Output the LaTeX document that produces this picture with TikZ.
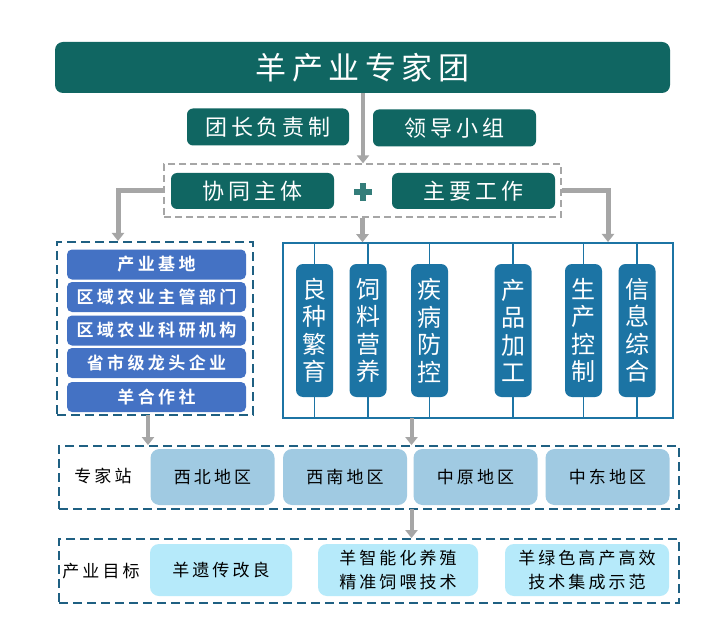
\documentclass[tikz,border=0pt]{standalone}
\usepackage{fontspec}
\usetikzlibrary{arrows.meta}
\newfontfamily\cjk{Noto Sans CJK SC}
\newfontfamily\cjkls[LetterSpace=18]{Noto Sans CJK SC}
\newfontfamily\cjkbd[LetterSpace=20]{Noto Sans CJK SC Bold}
\definecolor{teal1}{RGB}{16,102,98}
\definecolor{blue1}{RGB}{68,114,196}
\definecolor{pill}{RGB}{28,116,164}
\definecolor{dblue}{RGB}{31,96,130}
\definecolor{region}{RGB}{160,202,226}
\definecolor{goal}{RGB}{182,234,250}
\definecolor{arr}{RGB}{166,166,166}
\begin{document}
\begin{tikzpicture}[x=1pt,y=-1pt,
  tealbox/.style={fill=teal1,rounded corners=6pt,text=white,inner sep=0pt},
  bluebox/.style={fill=blue1,rounded corners=5pt,text=white,inner sep=0pt,minimum width=179pt,minimum height=30pt,font=\cjkbd\fontsize{17}{20}\selectfont},
  pillbox/.style={fill=pill,rounded corners=7pt,text=white,inner sep=0pt,minimum width=37pt,minimum height=133pt,align=center,font=\cjk\fontsize{24}{27.5}\selectfont},
  regbox/.style={fill=region,rounded corners=9pt,inner sep=0pt,minimum width=124pt,minimum height=56pt,font=\cjkls\fontsize{17}{20}\selectfont},
  goalbox/.style={fill=goal,rounded corners=9pt,inner sep=0pt,minimum height=52pt,align=center,font=\cjkls\fontsize{17}{24}\selectfont},
  bdash/.style={draw=dblue,line width=1.8pt,dash pattern=on 9pt off 5pt,inner sep=0pt},
  garrow/.style={draw=arr,line width=5pt,-{Triangle[width=12pt,length=8pt]}},
  frame/.style={draw=pill,line width=1.5pt},
  lbl/.style={font=\cjkls\fontsize{17}{20}\selectfont,inner sep=0pt}
]
\useasboundingbox (0,0) rectangle (714,636);
\fill[white] (0,0) rectangle (714,636);
% title
\node[tealbox,rounded corners=8pt,minimum width=615pt,minimum height=51pt,font=\cjkls\fontsize{31}{34}\selectfont] (title) at (362.5,67.5) {羊产业专家团};
\node[tealbox,minimum width=162pt,minimum height=37pt,font=\cjkls\fontsize{22}{24}\selectfont] (tz) at (268,127) {团长负责制};
\node[tealbox,minimum width=163pt,minimum height=37pt,font=\cjkls\fontsize{22}{24}\selectfont] (ld) at (454.5,128) {领导小组};
% dashed group
\node[draw=arr,line width=1.3pt,dash pattern=on 7pt off 4pt,minimum width=397pt,minimum height=53pt,inner sep=0pt] (grp) at (362.5,190.5) {};
\node[tealbox,minimum width=163pt,minimum height=36pt,font=\cjkls\fontsize{22}{24}\selectfont] (xt) at (252.5,191) {协同主体};
\node[tealbox,minimum width=163pt,minimum height=36pt,font=\cjkls\fontsize{22}{24}\selectfont] (zy) at (473.5,191) {主要工作};
\node[minimum size=20pt,inner sep=0pt] (plus) at (363,192) {};
\fill[teal1!85!white] (plus.center) ++(-9,-3) rectangle ++(18,6);
\fill[teal1!85!white] (plus.center) ++(-3,-9) rectangle ++(6,18);
% left group
\node[bdash,minimum width=196pt,minimum height=173pt] (lg) at (155,328.5) {};
\node[bluebox] (b1) at (156.5,264.5) {产业基地};
\node[bluebox] (b2) at (156.5,297) {区域农业主管部门};
\node[bluebox] (b3) at (156.5,330.5) {区域农业科研机构};
\node[bluebox] (b4) at (156.5,363) {省市级龙头企业};
\node[bluebox] (b5) at (156.5,397) {羊合作社};
% right frame
\node[frame,minimum width=390pt,minimum height=175pt,inner sep=0pt] (rf) at (478,330.5) {};
\node[pillbox] (p1) at (314.5,330.5) {良\\种\\繁\\育};
\node[pillbox] (p2) at (368,330.5) {饲\\料\\营\\养};
\node[pillbox] (p3) at (429.5,330.5) {疾\\病\\防\\控};
\node[pillbox] (p4) at (513,330.5) {产\\品\\加\\工};
\node[pillbox] (p5) at (583.5,330.5) {生\\产\\控\\制};
\node[pillbox] (p6) at (637,330.5) {信\\息\\综\\合};
\foreach \p in {p1,p2,p3,p4,p5,p6}{
  \draw[frame] (\p.north) -- (\p.north |- rf.north);
  \draw[frame] (\p.south) -- (\p.south |- rf.south);
}
% station
\node[bdash,minimum width=620pt,minimum height=63pt] (st) at (369,477.5) {};
\node[lbl] (stl) at (103,476) {专家站};
\node[regbox] (r1) at (212.5,477) {西北地区};
\node[regbox] (r2) at (345,477) {西南地区};
\node[regbox] (r3) at (475.5,477) {中原地区};
\node[regbox] (r4) at (607.5,477) {中东地区};
% goals
\node[bdash,minimum width=620pt,minimum height=64pt] (gl) at (369,571) {};
\node[lbl] (gll) at (101,571) {产业目标};
\node[goalbox,minimum width=142pt] (g1) at (221,570) {羊遗传改良};
\node[goalbox,minimum width=160pt] (g2) at (398,570) {羊智能化养殖\\精准饲喂技术};
\node[goalbox,minimum width=164pt] (g3) at (587,570) {羊绿色高产高效\\技术集成示范};
% arrows
\coordinate (lt) at (118,241);
\coordinate (rt) at (608,242);
\draw[garrow,line width=4pt] (title.south -| grp.north) ++(0.5,0) coordinate (a0) -- (a0 |- grp.north);
\draw[garrow] (grp.west) -| (lt);
\draw[garrow] (grp.east) -| (rt);
\draw[garrow] (grp.south) -- (grp.south |- rf.north);
\coordinate (lb) at (148,415);
\draw[garrow,line width=4pt] (lb) -- (lb |- st.north);
\coordinate (rb) at (411.5,418);
\draw[garrow,line width=4pt] (rb) -- (rb |- st.north);
\coordinate (sb) at (411.5,509);
\draw[garrow,line width=4pt] (sb) -- (sb |- gl.north);
\end{tikzpicture}
\end{document}
